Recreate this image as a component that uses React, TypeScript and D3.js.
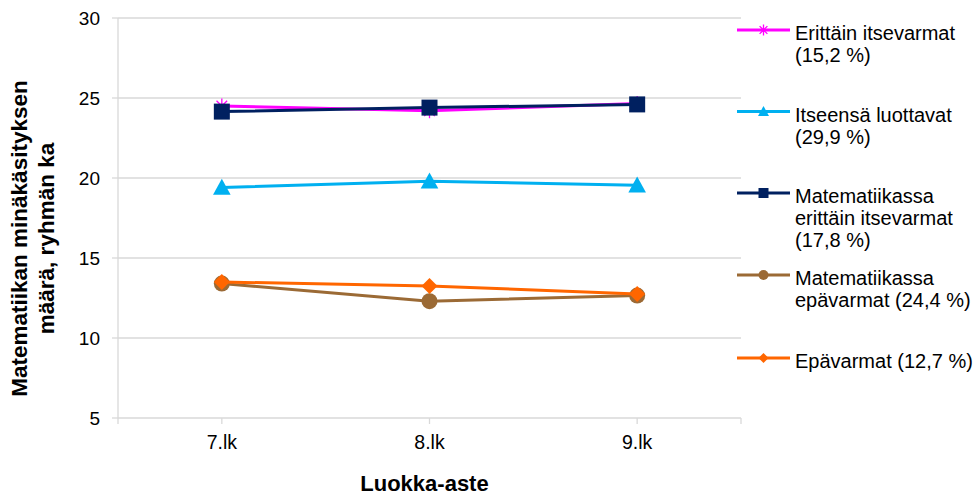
import React, { useEffect, useRef } from 'react';
import * as d3 from 'd3';

// categories and series values
const grades = ['7.lk', '8.lk', '9.lk'];
const erittainItsevarmat = [24.5, 24.2, 24.65];
const itseensaLuottavat = [19.4, 19.8, 19.55];
const matErittainItsevarmat = [24.15, 24.4, 24.6];
const matEpavarmat = [13.4, 12.3, 12.65];
const epavarmat = [13.5, 13.25, 12.75];
const yTicks = [5, 10, 15, 20, 25, 30];

const seriesNames = [
  ['Erittäin itsevarmat', '(15,2 %)'],
  ['Itseensä luottavat', '(29,9 %)'],
  ['Matematiikassa', 'erittäin itsevarmat', '(17,8 %)'],
  ['Matematiikassa', 'epävarmat (24,4 %)'],
  ['Epävarmat (12,7 %)'],
];

const FONT = '"Liberation Sans", Arial, sans-serif';

const App: React.FC = () => {
  const svgRef = useRef<SVGSVGElement>(null);

  useEffect(() => {
    const width = 978;
    const height = 495;
    const left = 118;
    const right = 741;
    const top = 18;
    const bottom = 418;

    const svg = d3.select(svgRef.current)
      .attr('width', width)
      .attr('height', height);
    svg.selectAll('*').remove();

    const x = d3.scalePoint<string>().domain(grades).range([left, right]).padding(0.5);
    const y = d3.scaleLinear().domain([5, 30]).range([bottom, top]);

    const series = [
      { values: erittainItsevarmat, color: '#ff00ff', marker: 'star' },
      { values: itseensaLuottavat, color: '#00b0f0', marker: 'triangle' },
      { values: matErittainItsevarmat, color: '#002060', marker: 'square' },
      { values: matEpavarmat, color: '#9b6a35', marker: 'circle' },
      { values: epavarmat, color: '#ff6600', marker: 'diamond' },
    ];

    // gridlines
    svg.append('g')
      .selectAll('line')
      .data(yTicks.filter(t => t !== 5))
      .enter().append('line')
      .attr('x1', left).attr('x2', right)
      .attr('y1', d => y(d)).attr('y2', d => y(d))
      .attr('stroke', '#d9d9d9').attr('stroke-width', 1.3);

    // y axis
    const yAxis = svg.append('g');
    yAxis.append('line')
      .attr('x1', left).attr('x2', left).attr('y1', top).attr('y2', bottom)
      .attr('stroke', '#d9d9d9').attr('stroke-width', 1.3);
    yAxis.selectAll('line.tick')
      .data(yTicks)
      .enter().append('line')
      .attr('class', 'tick')
      .attr('x1', left - 6).attr('x2', left)
      .attr('y1', d => y(d)).attr('y2', d => y(d))
      .attr('stroke', '#d9d9d9').attr('stroke-width', 1.3);
    yAxis.selectAll('text')
      .data(yTicks)
      .enter().append('text')
      .attr('x', 100).attr('y', d => y(d) + 7)
      .attr('text-anchor', 'end')
      .attr('font-family', FONT).attr('font-size', 19).attr('fill', '#000')
      .text(d => d);

    // x axis
    const xAxis = svg.append('g');
    xAxis.append('line')
      .attr('x1', left).attr('x2', right).attr('y1', bottom).attr('y2', bottom)
      .attr('stroke', '#d9d9d9').attr('stroke-width', 1.3);
    const xTickPos = [left, ...grades.map(g => x(g) as number), right];
    xAxis.selectAll('line.tick')
      .data(xTickPos)
      .enter().append('line')
      .attr('class', 'tick')
      .attr('x1', d => d).attr('x2', d => d)
      .attr('y1', bottom).attr('y2', bottom + 6)
      .attr('stroke', '#d9d9d9').attr('stroke-width', 1.3);
    xAxis.selectAll('text')
      .data(grades)
      .enter().append('text')
      .attr('x', d => x(d) as number).attr('y', 449)
      .attr('text-anchor', 'middle')
      .attr('font-family', FONT).attr('font-size', 19.5).attr('fill', '#000')
      .text(d => d);

    // axis titles
    svg.append('text')
      .attr('x', (left + right) / 2 - 5).attr('y', 491)
      .attr('text-anchor', 'middle')
      .attr('font-family', FONT).attr('font-size', 22).attr('font-weight', 'bold')
      .text('Luokka-aste');
    const yTitle = svg.append('text')
      .attr('transform', 'translate(0,238.5) rotate(-90)')
      .attr('text-anchor', 'middle')
      .attr('font-family', FONT).attr('font-size', 22.5).attr('font-weight', 'bold');
    yTitle.append('tspan').attr('x', 0).attr('y', 27).text('Matematiikan minäkäsityksen');
    yTitle.append('tspan').attr('x', 0).attr('y', 54).text('määrä, ryhmän ka');

    // marker drawing
    const drawMarker = (g: d3.Selection<SVGGElement, unknown, null, undefined>, type: string, color: string, s: number) => {
      if (type === 'square') {
        g.append('rect').attr('x', -s / 2).attr('y', -s / 2).attr('width', s).attr('height', s).attr('fill', color);
      } else if (type === 'triangle') {
        g.append('path').attr('d', `M0,${-s * 0.55}L${s * 0.55},${s * 0.45}L${-s * 0.55},${s * 0.45}Z`).attr('fill', color);
      } else if (type === 'circle') {
        g.append('circle').attr('r', s / 2).attr('fill', color);
      } else if (type === 'diamond') {
        g.append('path').attr('d', `M0,${-s / 2}L${s / 2},0L0,${s / 2}L${-s / 2},0Z`).attr('fill', color);
      } else if (type === 'star') {
        const r = s / 2;
        const d = r * 0.707;
        g.append('path')
          .attr('d', `M${-r},0L${r},0M0,${-r}L0,${r}M${-d},${-d}L${d},${d}M${-d},${d}L${d},${-d}`)
          .attr('stroke', color).attr('stroke-width', 1.3).attr('fill', 'none');
      }
    };

    const line = d3.line<number>()
      .x((_, i) => x(grades[i]) as number)
      .y(d => y(d));

    series.forEach(s => {
      const g = svg.append('g');
      g.append('path')
        .attr('d', line(s.values))
        .attr('fill', 'none')
        .attr('stroke', s.color)
        .attr('stroke-width', 3);
      s.values.forEach((v, i) => {
        const mg = g.append('g').attr('transform', `translate(${x(grades[i])},${y(v)})`);
        drawMarker(mg, s.marker, s.color, s.marker === 'star' ? 15 : 16);
      });
    });

    // legend
    const legendY = [30, 111.5, 193, 275, 358];
    series.forEach((s, i) => {
      const g = svg.append('g').attr('transform', `translate(0,${legendY[i]})`);
      g.append('line').attr('x1', 737).attr('x2', 790).attr('y1', 0).attr('y2', 0)
        .attr('stroke', s.color).attr('stroke-width', 3);
      const mg = g.append('g').attr('transform', 'translate(763.5,0)');
      drawMarker(mg, s.marker, s.color, s.marker === 'star' ? 11 : 10);
      const t = g.append('text')
        .attr('font-family', FONT).attr('font-size', 20).attr('fill', '#000');
      seriesNames[i].forEach((ln, j) => {
        t.append('tspan').attr('x', 795).attr('y', 10 + j * 22).text(ln);
      });
    });
  }, []);

  return (
    <svg ref={svgRef} style={{ position: 'absolute', left: 0, top: 0 }}></svg>
  );
};

export default App;
